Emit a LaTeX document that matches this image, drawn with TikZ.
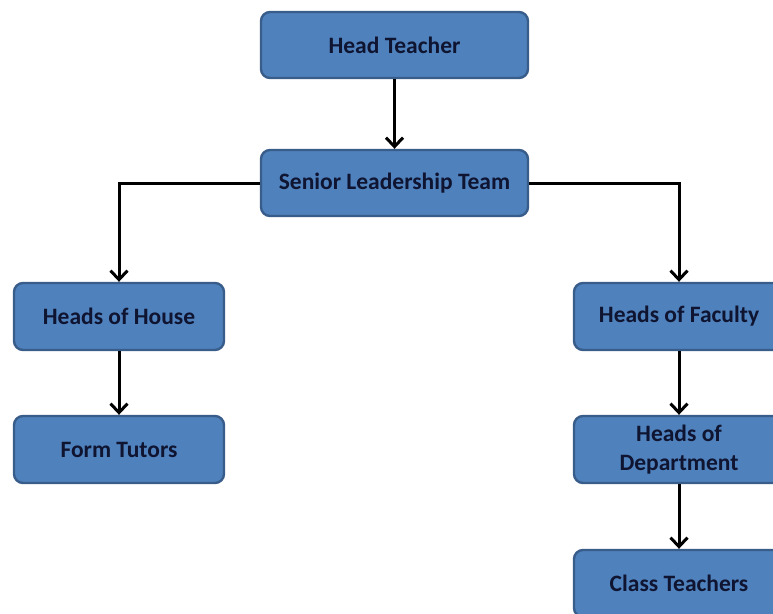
\documentclass[tikz,border=0pt]{standalone}
\usepackage{fontspec}
\setmainfont{Carlito}
\usetikzlibrary{arrows.meta}
\definecolor{boxfill}{HTML}{4F81BD}
\definecolor{boxline}{HTML}{385D8A}
\definecolor{boxtext}{HTML}{0f1430}
\tikzset{
  orgbox/.style={draw=boxline, line width=2.4pt, fill=boxfill, rounded corners=9pt,
    minimum height=66pt, align=center, text=boxtext,
    font=\bfseries\fontsize{23.5}{29}\selectfont, inner sep=0pt},
  conn/.style={line width=3pt, -{Straight Barb[length=9pt,width=17pt,line width=3pt]}},
}
\begin{document}
\begin{tikzpicture}[x=1pt,y=-1pt]
\useasboundingbox (0,0) rectangle (773,613);
\clip (0,0) rectangle (773,613);
\node[orgbox, minimum width=267pt] (ht) at (394.5,45) {Head Teacher};
\node[orgbox, minimum width=267pt] (slt) at (394.5,183) {Senior Leadership Team};
\node[orgbox, minimum width=210pt, minimum height=67pt] (hoh) at (119,316.5) {Heads of House};
\node[orgbox, minimum width=210pt, minimum height=67pt] (ft) at (119,449.5) {Form Tutors};
\node[orgbox, minimum width=210pt, minimum height=67pt] (hof) at (679,316.5) {Heads of Faculty};
\node[orgbox, minimum width=210pt, minimum height=67pt] (hod) at (679,449.5) {Heads of\\Department};
\node[orgbox, minimum width=210pt, minimum height=67pt] (ct) at (679,583.5) {Class Teachers};
\draw[conn] (ht.south) -- (slt.north);
\draw[conn] (slt.west) -| (hoh.north);
\draw[conn] (slt.east) -| (hof.north);
\draw[conn] (hoh.south) -- (ft.north);
\draw[conn] (hof.south) -- (hod.north);
\draw[conn] (hod.south) -- (ct.north);
\end{tikzpicture}
\end{document}
